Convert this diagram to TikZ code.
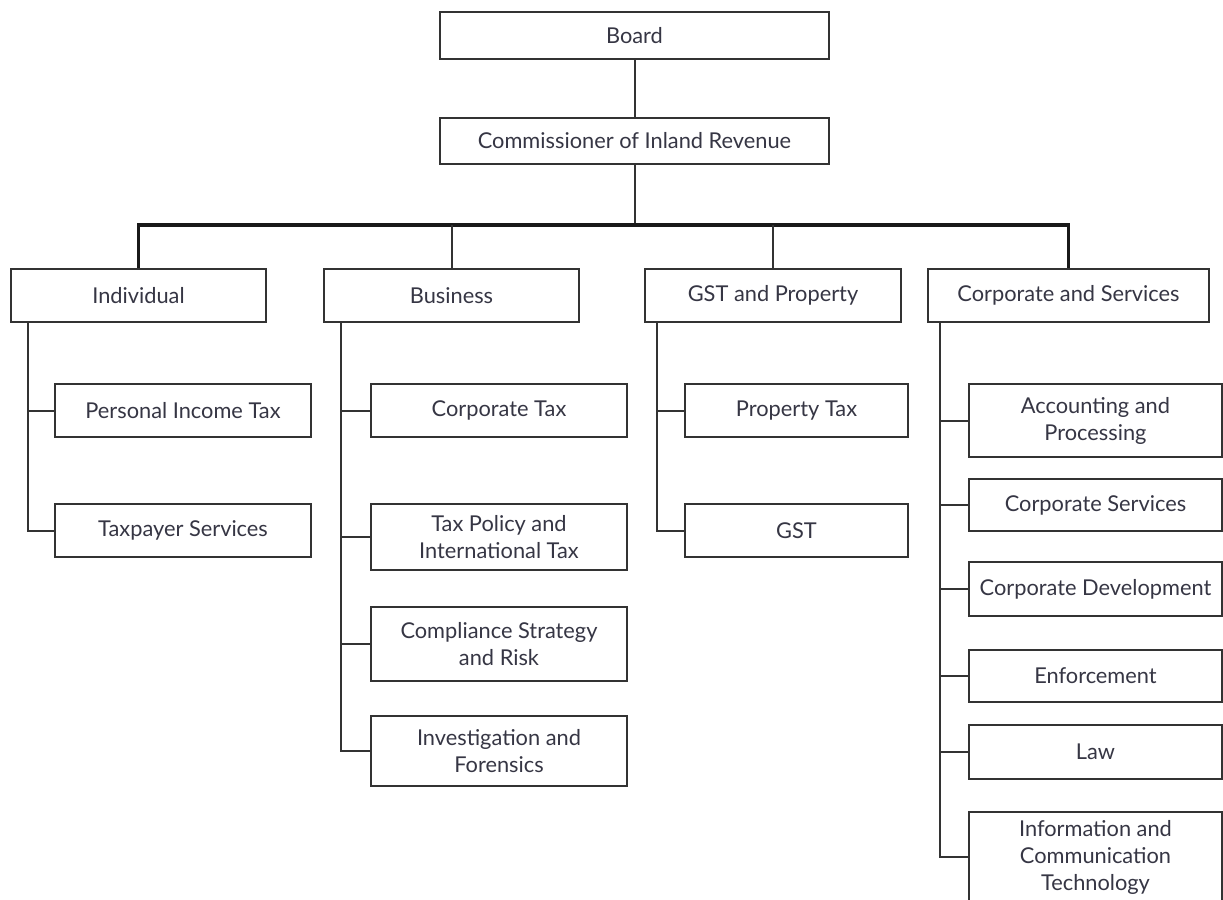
\documentclass[tikz,border=0pt]{standalone}
\usepackage{fontspec}
\setmainfont{Lato}
\definecolor{inkline}{HTML}{333333}
\definecolor{inktext}{HTML}{363644}
\begin{document}
\begin{tikzpicture}[x=0.5pt,y=-0.5pt,
  unit/.style 2 args={draw=inkline, line width=1pt, fill=white, inner sep=0pt,
    minimum width=#1*0.5pt, minimum height=#2*0.5pt, align=center,
    text=inktext, font=\fontsize{10.9}{13.5}\selectfont},
  link/.style={draw=inkline, line width=1pt},
  trunk/.style={draw=black!90, line width=1.8pt, line join=miter}]
\useasboundingbox (0,0) rectangle (1223,900);
\begin{scope}
\clip (0,0) rectangle (1223,900);

% top of the structure
\node[unit={389}{47}] (board) at (634.5,35.5) {Board};
\node[unit={389}{46}] (comm) at (634.5,141) {Commissioner of Inland Revenue};

% groups
\node[unit={255}{53}] (ind) at (138.5,295.5) {Individual};
\node[unit={255}{53}] (bus) at (451.5,295.5) {Business};
\node[unit={256}{53}] (gstp) at (773,295.5) {GST and Property};
\node[unit={281}{53}] (corp) at (1068.5,295.5) {Corporate and Services};

% Individual
\node[unit={256}{53}] (pit) at (183,410.5) {Personal Income Tax};
\node[unit={256}{53}] (tps) at (183,530.5) {Taxpayer Services};

% Business
\node[unit={256}{53}] (ctax) at (499,410.5) {Corporate Tax};
\node[unit={256}{66}] (tpol) at (499,537) {Tax Policy and\\International Tax};
\node[unit={256}{74}] (csr) at (499,644) {Compliance Strategy\\and Risk};
\node[unit={256}{70}] (inv) at (499,751) {Investigation and\\Forensics};

% GST and Property
\node[unit={223}{53}] (ptax) at (796.5,410.5) {Property Tax};
\node[unit={223}{53}] (gst) at (796.5,530.5) {GST};

% Corporate and Services
\node[unit={253}{73}] (acc) at (1095.5,420.5) {Accounting and\\Processing};
\node[unit={253}{52}] (cs) at (1095.5,505) {Corporate Services};
\node[unit={253}{54}] (cd) at (1095.5,589) {Corporate Development};
\node[unit={253}{52}] (enf) at (1095.5,676) {Enforcement};
\node[unit={253}{54}] (law) at (1095.5,752) {Law};
\node[unit={253}{90}] (ict) at (1095.5,857) {Information and\\Communication\\Technology};

% connectors between levels
\coordinate (hub) at (634.5,225);
\draw[link] (board) -- (comm);
\draw[link] (comm.south) -- (hub);
\draw[trunk] (ind.north) -- (ind.north |- hub) -- (corp.north |- hub) -- (corp.north);
\draw[link] (bus.north) -- (bus.north |- hub);
\draw[link] (gstp.north) -- (gstp.north |- hub);

% spines
\coordinate (sInd) at (28,322);
\coordinate (sBus) at (341,322);
\coordinate (sGst) at (657,322);
\coordinate (sCorp) at (940,322);

\draw[link] (sInd) |- (tps.west);
\draw[link] (sInd |- pit.west) -- (pit.west);

\draw[link] (sBus) |- (inv.west);
\foreach \n in {ctax,tpol,csr} \draw[link] (sBus |- \n.west) -- (\n.west);

\draw[link] (sGst) |- (gst.west);
\draw[link] (sGst |- ptax.west) -- (ptax.west);

\draw[link] (sCorp) |- (ict.west);
\foreach \n in {acc,cs,cd,enf,law} \draw[link] (sCorp |- \n.west) -- (\n.west);
\end{scope}
\end{tikzpicture}
\end{document}
